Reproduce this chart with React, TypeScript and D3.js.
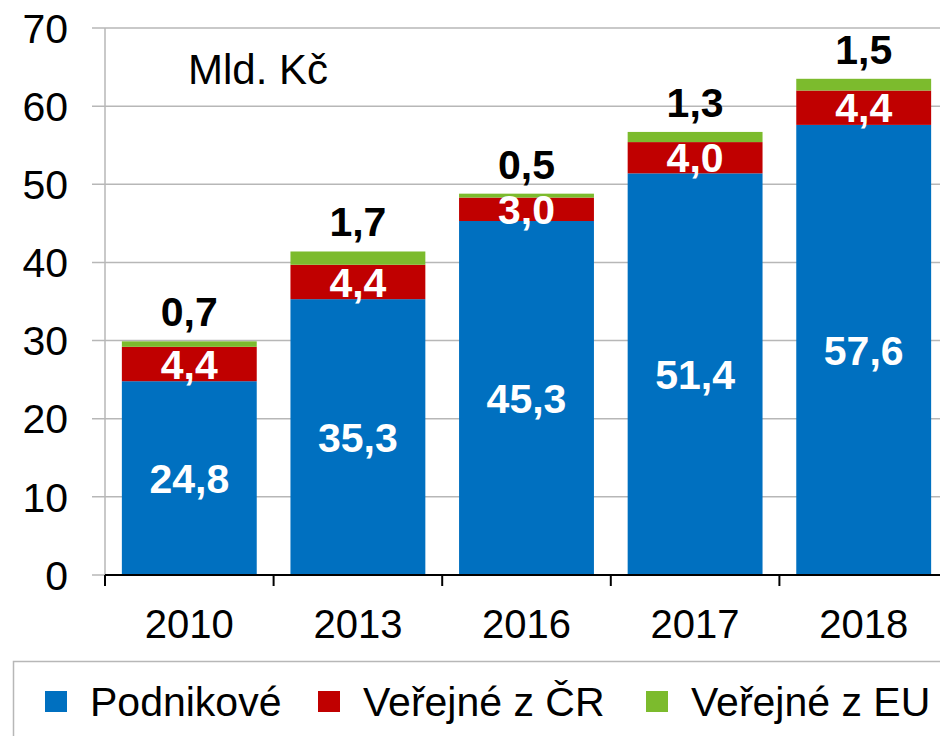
import React from "react";
import * as d3 from "d3";

const years = ["2010", "2013", "2016", "2017", "2018"];
const podnikove = [24.8, 35.3, 45.3, 51.4, 57.6];
const verejneCR = [4.4, 4.4, 3.0, 4.0, 4.4];
const verejneEU = [0.7, 1.7, 0.5, 1.3, 1.5];
const yTicks = [0, 10, 20, 30, 40, 50, 60, 70];
const seriesNames = ["Podnikové", "Veřejné z ČR", "Veřejné z EU"];
const seriesColors = ["#0070C0", "#C00000", "#7CBB2D"];
const unitLabel = "Mld. Kč";

const W = 940;
const H = 736;
const FONT = "'Liberation Sans', Arial, sans-serif";

const fmt = (v: number) => v.toFixed(1).replace(".", ",");

export default function App() {
  const x = d3.scaleBand<string>().domain(years).range([105, 948]).paddingInner(0.2).paddingOuter(0.1);
  const y = d3.scaleLinear().domain([0, 70]).range([575, 28]);

  const table = years.map((yr, i) => ({ year: yr, p: podnikove[i], cr: verejneCR[i], eu: verejneEU[i] }));
  const stack = d3.stack<any>().keys(["p", "cr", "eu"])(table);

  const step = x.step();
  const boundaries = d3.range(years.length + 1).map((i) => 105 + i * step);

  const legendX = [45, 318, 646];

  return (
    <svg width={W} height={H} style={{ position: "absolute", left: 0, top: 0, background: "#fff" }} fontFamily={FONT}>
      {/* gridlines */}
      {yTicks.map((t) => (
        <line key={"g" + t} x1={92} x2={948} y1={y(t)} y2={y(t)} stroke="#B7B7B7" strokeWidth={1.5} />
      ))}
      {/* y axis line */}
      <line x1={105} x2={105} y1={y(70)} y2={y(0)} stroke="#B7B7B7" strokeWidth={1.5} />
      {/* y tick labels */}
      {yTicks.map((t) => (
        <text key={"yt" + t} x={68} y={y(t)} dy="0.36em" textAnchor="end" fontSize={41} fill="#000">
          {t}
        </text>
      ))}
      {/* bars */}
      {stack.map((s, si) =>
        s.map((d, i) => (
          <rect
            key={si + "-" + i}
            x={x(years[i])}
            width={x.bandwidth()}
            y={y(d[1])}
            height={y(d[0]) - y(d[1])}
            fill={seriesColors[si]}
          />
        ))
      )}
      {/* x axis */}
      <line x1={105} x2={948} y1={y(0)} y2={y(0)} stroke="#000" strokeWidth={2} />
      {boundaries.map((bx, i) => (
        <line key={"xt" + i} x1={bx} x2={bx} y1={y(0)} y2={y(0) + 11} stroke="#000" strokeWidth={2} />
      ))}
      {years.map((yr) => (
        <text key={"xl" + yr} x={(x(yr) as number) + x.bandwidth() / 2} y={638} textAnchor="middle" fontSize={40} fill="#000">
          {yr}
        </text>
      ))}
      {/* segment labels */}
      {stack.slice(0, 2).map((s, si) =>
        s.map((d, i) => (
          <text
            key={"sl" + si + "-" + i}
            x={(x(years[i]) as number) + x.bandwidth() / 2}
            y={(y(d[0]) + y(d[1])) / 2}
            dy="0.36em"
            textAnchor="middle"
            fontSize={41}
            fontWeight="bold"
            fill="#fff"
          >
            {fmt(d[1] - d[0])}
          </text>
        ))
      )}
      {/* top labels (EU) */}
      {stack[2].map((d, i) => (
        <text
          key={"tl" + i}
          x={(x(years[i]) as number) + x.bandwidth() / 2}
          y={y(d[1]) - 15}
          textAnchor="middle"
          fontSize={41}
          fontWeight="bold"
          fill="#000"
        >
          {fmt(d[1] - d[0])}
        </text>
      ))}
      {/* unit label */}
      <text x={188} y={84} fontSize={42} fill="#000">
        {unitLabel}
      </text>
      {/* legend */}
      <rect x={13.5} y={661.5} width={940} height={100} fill="none" stroke="#B7B7B7" strokeWidth={1.5} />
      {seriesNames.map((n, i) => (
        <g key={"lg" + i}>
          <rect x={legendX[i]} y={691} width={22} height={21} fill={seriesColors[i]} />
          <text x={legendX[i] + 45} y={716} fontSize={41} fill="#000">
            {n}
          </text>
        </g>
      ))}
    </svg>
  );
}
